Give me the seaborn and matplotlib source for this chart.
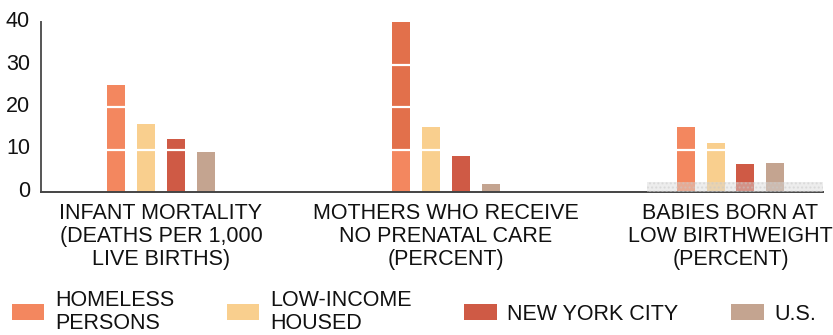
import matplotlib
matplotlib.use("Agg")
import matplotlib.pyplot as plt
import matplotlib.patches as mpatches
from matplotlib.transforms import ScaledTranslation
import pandas as pd
import seaborn as sns

# data
categories = ["INFANT MORTALITY\n(DEATHS PER 1,000\nLIVE BIRTHS)",
              "MOTHERS WHO RECEIVE\nNO PRENATAL CARE\n(PERCENT)",
              "BABIES BORN AT\nLOW BIRTHWEIGHT\n(PERCENT)"]
groups = ["HOMELESS\nPERSONS", "LOW-INCOME\nHOUSED", "NEW YORK CITY", "U.S."]
homeless = [25.2, 40, 15.3]
low_income = [16, 15.3, 11.5]
new_york = [12.5, 8.5, 6.6]
us = [9.4, 1.9, 6.8]
colors = ["#F3875F", "#F9CF8E", "#CF5A45", "#C4A490"]

rows = []
for g, vals in zip(groups, [homeless, low_income, new_york, us]):
    for c, v in zip(categories, vals):
        rows.append({"category": c, "group": g, "value": v})
df = pd.DataFrame(rows)

sns.set_style("white")
plt.rcParams["font.family"] = ["Liberation Sans", "DejaVu Sans"]
fs = 15.5

fig = plt.figure(figsize=(8.33, 3.35), dpi=100)
ax = fig.add_axes([41 / 833, 143 / 335, 782 / 833, 170 / 335])

sns.barplot(data=df, x="category", y="value", hue="group", order=categories,
            hue_order=groups, palette=colors, saturation=1, width=0.42, gap=0.4,
            linewidth=0, legend=False, ax=ax)

# darker upper part of the bar that runs off the top
for p in ax.patches:
    if p.get_height() >= 40:
        ax.add_patch(mpatches.Rectangle((p.get_x(), 10), p.get_width(), p.get_height() - 10,
                                        color="#E2704B", lw=0, zorder=2.2))

# white rules across the bars
ax.hlines([10, 20, 30], -0.4, 2.32, color="white", lw=1.6, zorder=3)

# faint stippled band near the baseline on the right
ax.axhspan(0, 2.3, xmin=0.775, xmax=1, facecolor="#d8d8d8", alpha=0.45,
           hatch="....", edgecolor="#c8c8c8", lw=0, zorder=3)

ax.set_xlim(-0.4214, 2.3248)
ax.set_ylim(0, 40)
ax.set_yticks([0, 10, 20, 30, 40])
ax.set_xlabel("")
ax.set_ylabel("")
ax.tick_params(axis="both", length=0, labelsize=fs, colors="#111111")
ax.tick_params(axis="y", pad=8)
ax.tick_params(axis="x", pad=8)
for t in ax.get_xticklabels():
    t.set_linespacing(1.12)
for t in ax.get_yticklabels():
    t.set_transform(t.get_transform() + ScaledTranslation(0, 3 / 100, fig.dpi_scale_trans))

sns.despine(ax=ax)
ax.spines["left"].set_color("#555555")
ax.spines["left"].set_linewidth(1.4)
ax.spines["bottom"].set_color("#444444")
ax.spines["bottom"].set_linewidth(1.4)

handles = [mpatches.Patch(color=c, lw=0) for c in colors]
leg = fig.legend(handles, groups, loc="upper left", bbox_to_anchor=(12 / 833, 1 - 290 / 335),
                 ncol=4, frameon=False, fontsize=fs, handlelength=1.5, handleheight=0.78,
                 handletextpad=0.5, columnspacing=2.45, borderpad=0, borderaxespad=0)
for t in leg.get_texts():
    t.set_linespacing(1.1)
    t.set_color("#111111")

fig.savefig("out.png", dpi=100)
